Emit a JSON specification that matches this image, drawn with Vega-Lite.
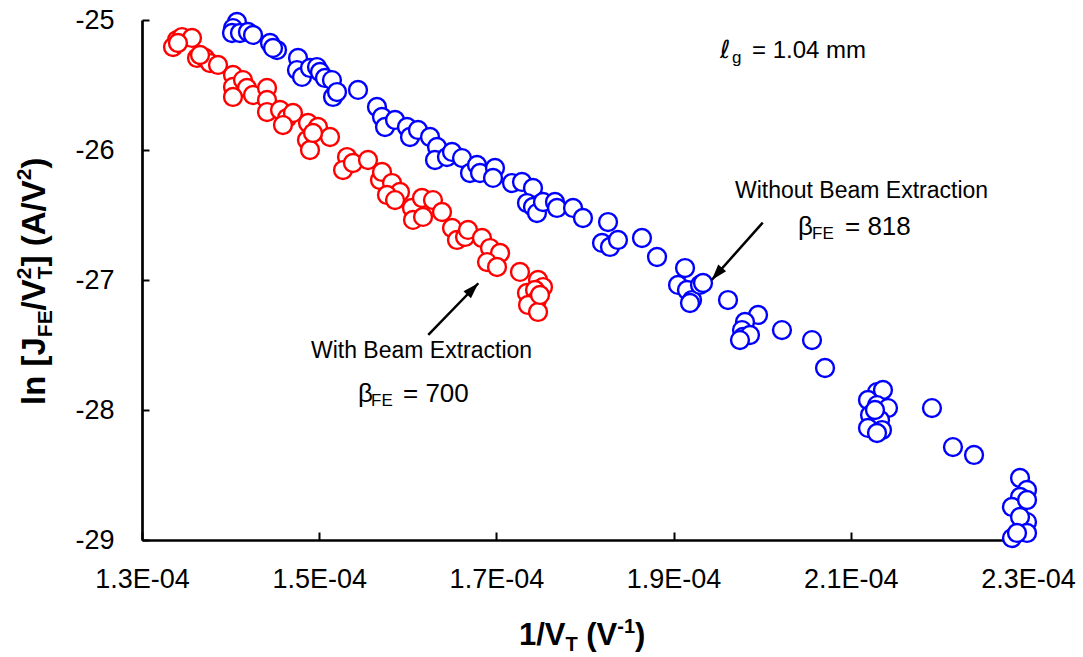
{
  "$schema": "https://vega.github.io/schema/vega-lite/v6.json",
  "width": 886,
  "height": 520,
  "autosize": {"type": "none"},
  "padding": {"left": 142, "top": 20, "right": 55, "bottom": 117},
  "background": "white",
  "data": {"values": [{}]},
  "config": {
    "view": {"stroke": null},
    "font": "Liberation Sans, Arial, sans-serif",
    "axis": {
      "grid": false,
      "title": null,
      "domainColor": "black",
      "domainWidth": 2.7,
      "tickColor": "black",
      "tickWidth": 2,
      "labelColor": "black",
      "labelFont": "Liberation Sans, Arial, sans-serif",
      "labelFontSize": 27,
      "labelFlush": false,
      "labelOverlap": false
    }
  },
  "datasets": {
    "points": [
      {"series": "Without Beam Extraction", "x": 1.4072e-4, "y": -25.015},
      {"series": "Without Beam Extraction", "x": 1.4027e-4, "y": -25.062},
      {"series": "Without Beam Extraction", "x": 1.4016e-4, "y": -25.100},
      {"series": "Without Beam Extraction", "x": 1.4106e-4, "y": -25.100},
      {"series": "Without Beam Extraction", "x": 1.4196e-4, "y": -25.092},
      {"series": "Without Beam Extraction", "x": 1.4253e-4, "y": -25.115},
      {"series": "Without Beam Extraction", "x": 1.4445e-4, "y": -25.177},
      {"series": "Without Beam Extraction", "x": 1.4524e-4, "y": -25.231},
      {"series": "Without Beam Extraction", "x": 1.4479e-4, "y": -25.215},
      {"series": "Without Beam Extraction", "x": 1.4761e-4, "y": -25.292},
      {"series": "Without Beam Extraction", "x": 1.4749e-4, "y": -25.385},
      {"series": "Without Beam Extraction", "x": 1.4806e-4, "y": -25.438},
      {"series": "Without Beam Extraction", "x": 1.4896e-4, "y": -25.369},
      {"series": "Without Beam Extraction", "x": 1.4975e-4, "y": -25.362},
      {"series": "Without Beam Extraction", "x": 1.5009e-4, "y": -25.400},
      {"series": "Without Beam Extraction", "x": 1.5065e-4, "y": -25.446},
      {"series": "Without Beam Extraction", "x": 1.5144e-4, "y": -25.462},
      {"series": "Without Beam Extraction", "x": 1.5156e-4, "y": -25.592},
      {"series": "Without Beam Extraction", "x": 1.5201e-4, "y": -25.554},
      {"series": "Without Beam Extraction", "x": 1.5438e-4, "y": -25.538},
      {"series": "Without Beam Extraction", "x": 1.5652e-4, "y": -25.669},
      {"series": "Without Beam Extraction", "x": 1.5709e-4, "y": -25.746},
      {"series": "Without Beam Extraction", "x": 1.5743e-4, "y": -25.823},
      {"series": "Without Beam Extraction", "x": 1.5856e-4, "y": -25.769},
      {"series": "Without Beam Extraction", "x": 1.5991e-4, "y": -25.823},
      {"series": "Without Beam Extraction", "x": 1.6025e-4, "y": -25.900},
      {"series": "Without Beam Extraction", "x": 1.6115e-4, "y": -25.846},
      {"series": "Without Beam Extraction", "x": 1.6251e-4, "y": -25.900},
      {"series": "Without Beam Extraction", "x": 1.6330e-4, "y": -25.977},
      {"series": "Without Beam Extraction", "x": 1.6307e-4, "y": -26.077},
      {"series": "Without Beam Extraction", "x": 1.6442e-4, "y": -26.054},
      {"series": "Without Beam Extraction", "x": 1.6499e-4, "y": -26.015},
      {"series": "Without Beam Extraction", "x": 1.6612e-4, "y": -26.062},
      {"series": "Without Beam Extraction", "x": 1.6702e-4, "y": -26.177},
      {"series": "Without Beam Extraction", "x": 1.6781e-4, "y": -26.115},
      {"series": "Without Beam Extraction", "x": 1.6815e-4, "y": -26.177},
      {"series": "Without Beam Extraction", "x": 1.6984e-4, "y": -26.138},
      {"series": "Without Beam Extraction", "x": 1.6962e-4, "y": -26.215},
      {"series": "Without Beam Extraction", "x": 1.7176e-4, "y": -26.254},
      {"series": "Without Beam Extraction", "x": 1.7289e-4, "y": -26.246},
      {"series": "Without Beam Extraction", "x": 1.7413e-4, "y": -26.292},
      {"series": "Without Beam Extraction", "x": 1.7345e-4, "y": -26.408},
      {"series": "Without Beam Extraction", "x": 1.7413e-4, "y": -26.438},
      {"series": "Without Beam Extraction", "x": 1.7458e-4, "y": -26.485},
      {"series": "Without Beam Extraction", "x": 1.7526e-4, "y": -26.400},
      {"series": "Without Beam Extraction", "x": 1.7661e-4, "y": -26.400},
      {"series": "Without Beam Extraction", "x": 1.7684e-4, "y": -26.446},
      {"series": "Without Beam Extraction", "x": 1.7865e-4, "y": -26.446},
      {"series": "Without Beam Extraction", "x": 1.7977e-4, "y": -26.523},
      {"series": "Without Beam Extraction", "x": 1.8260e-4, "y": -26.554},
      {"series": "Without Beam Extraction", "x": 1.8192e-4, "y": -26.715},
      {"series": "Without Beam Extraction", "x": 1.8282e-4, "y": -26.746},
      {"series": "Without Beam Extraction", "x": 1.8372e-4, "y": -26.692},
      {"series": "Without Beam Extraction", "x": 1.8643e-4, "y": -26.677},
      {"series": "Without Beam Extraction", "x": 1.8813e-4, "y": -26.823},
      {"series": "Without Beam Extraction", "x": 1.9129e-4, "y": -26.908},
      {"series": "Without Beam Extraction", "x": 1.9050e-4, "y": -27.038},
      {"series": "Without Beam Extraction", "x": 1.9151e-4, "y": -27.077},
      {"series": "Without Beam Extraction", "x": 1.9208e-4, "y": -27.154},
      {"series": "Without Beam Extraction", "x": 1.9298e-4, "y": -27.038},
      {"series": "Without Beam Extraction", "x": 1.9332e-4, "y": -27.023},
      {"series": "Without Beam Extraction", "x": 1.9185e-4, "y": -27.177},
      {"series": "Without Beam Extraction", "x": 1.9614e-4, "y": -27.154},
      {"series": "Without Beam Extraction", "x": 1.9953e-4, "y": -27.269},
      {"series": "Without Beam Extraction", "x": 1.9806e-4, "y": -27.323},
      {"series": "Without Beam Extraction", "x": 1.9772e-4, "y": -27.385},
      {"series": "Without Beam Extraction", "x": 1.9783e-4, "y": -27.438},
      {"series": "Without Beam Extraction", "x": 1.9862e-4, "y": -27.423},
      {"series": "Without Beam Extraction", "x": 1.9749e-4, "y": -27.462},
      {"series": "Without Beam Extraction", "x": 2.0223e-4, "y": -27.385},
      {"series": "Without Beam Extraction", "x": 2.0562e-4, "y": -27.462},
      {"series": "Without Beam Extraction", "x": 2.0709e-4, "y": -27.677},
      {"series": "Without Beam Extraction", "x": 2.1296e-4, "y": -27.862},
      {"series": "Without Beam Extraction", "x": 2.1363e-4, "y": -27.846},
      {"series": "Without Beam Extraction", "x": 2.1194e-4, "y": -27.923},
      {"series": "Without Beam Extraction", "x": 2.1296e-4, "y": -27.962},
      {"series": "Without Beam Extraction", "x": 2.1420e-4, "y": -27.985},
      {"series": "Without Beam Extraction", "x": 2.1217e-4, "y": -28.038},
      {"series": "Without Beam Extraction", "x": 2.1330e-4, "y": -28.077},
      {"series": "Without Beam Extraction", "x": 2.1194e-4, "y": -28.138},
      {"series": "Without Beam Extraction", "x": 2.1352e-4, "y": -28.154},
      {"series": "Without Beam Extraction", "x": 2.1296e-4, "y": -28.177},
      {"series": "Without Beam Extraction", "x": 2.1273e-4, "y": -28.000},
      {"series": "Without Beam Extraction", "x": 2.1916e-4, "y": -27.985},
      {"series": "Without Beam Extraction", "x": 2.2153e-4, "y": -28.285},
      {"series": "Without Beam Extraction", "x": 2.2391e-4, "y": -28.346},
      {"series": "Without Beam Extraction", "x": 2.2910e-4, "y": -28.523},
      {"series": "Without Beam Extraction", "x": 2.2989e-4, "y": -28.615},
      {"series": "Without Beam Extraction", "x": 2.2910e-4, "y": -28.669},
      {"series": "Without Beam Extraction", "x": 2.2819e-4, "y": -28.746},
      {"series": "Without Beam Extraction", "x": 2.2989e-4, "y": -28.692},
      {"series": "Without Beam Extraction", "x": 2.2989e-4, "y": -28.862},
      {"series": "Without Beam Extraction", "x": 2.2910e-4, "y": -28.823},
      {"series": "Without Beam Extraction", "x": 2.2989e-4, "y": -28.946},
      {"series": "Without Beam Extraction", "x": 2.2819e-4, "y": -28.985},
      {"series": "Without Beam Extraction", "x": 2.2876e-4, "y": -28.946},
      {"series": "With Beam Extraction", "x": 1.3395e-4, "y": -25.154},
      {"series": "With Beam Extraction", "x": 1.3350e-4, "y": -25.208},
      {"series": "With Beam Extraction", "x": 1.3451e-4, "y": -25.131},
      {"series": "With Beam Extraction", "x": 1.3564e-4, "y": -25.138},
      {"series": "With Beam Extraction", "x": 1.3406e-4, "y": -25.177},
      {"series": "With Beam Extraction", "x": 1.3621e-4, "y": -25.292},
      {"series": "With Beam Extraction", "x": 1.3711e-4, "y": -25.292},
      {"series": "With Beam Extraction", "x": 1.3767e-4, "y": -25.331},
      {"series": "With Beam Extraction", "x": 1.3858e-4, "y": -25.346},
      {"series": "With Beam Extraction", "x": 1.3655e-4, "y": -25.269},
      {"series": "With Beam Extraction", "x": 1.4027e-4, "y": -25.423},
      {"series": "With Beam Extraction", "x": 1.4027e-4, "y": -25.515},
      {"series": "With Beam Extraction", "x": 1.4140e-4, "y": -25.462},
      {"series": "With Beam Extraction", "x": 1.4185e-4, "y": -25.523},
      {"series": "With Beam Extraction", "x": 1.4027e-4, "y": -25.592},
      {"series": "With Beam Extraction", "x": 1.4253e-4, "y": -25.577},
      {"series": "With Beam Extraction", "x": 1.4411e-4, "y": -25.523},
      {"series": "With Beam Extraction", "x": 1.4411e-4, "y": -25.615},
      {"series": "With Beam Extraction", "x": 1.4411e-4, "y": -25.708},
      {"series": "With Beam Extraction", "x": 1.4558e-4, "y": -25.692},
      {"series": "With Beam Extraction", "x": 1.4637e-4, "y": -25.754},
      {"series": "With Beam Extraction", "x": 1.4704e-4, "y": -25.715},
      {"series": "With Beam Extraction", "x": 1.4591e-4, "y": -25.808},
      {"series": "With Beam Extraction", "x": 1.4874e-4, "y": -25.792},
      {"series": "With Beam Extraction", "x": 1.4986e-4, "y": -25.823},
      {"series": "With Beam Extraction", "x": 1.5122e-4, "y": -25.900},
      {"series": "With Beam Extraction", "x": 1.4862e-4, "y": -25.923},
      {"series": "With Beam Extraction", "x": 1.4896e-4, "y": -26.000},
      {"series": "With Beam Extraction", "x": 1.4930e-4, "y": -25.869},
      {"series": "With Beam Extraction", "x": 1.5314e-4, "y": -26.054},
      {"series": "With Beam Extraction", "x": 1.5269e-4, "y": -26.154},
      {"series": "With Beam Extraction", "x": 1.5381e-4, "y": -26.100},
      {"series": "With Beam Extraction", "x": 1.5551e-4, "y": -26.077},
      {"series": "With Beam Extraction", "x": 1.5686e-4, "y": -26.231},
      {"series": "With Beam Extraction", "x": 1.5709e-4, "y": -26.169},
      {"series": "With Beam Extraction", "x": 1.5822e-4, "y": -26.254},
      {"series": "With Beam Extraction", "x": 1.5912e-4, "y": -26.323},
      {"series": "With Beam Extraction", "x": 1.5765e-4, "y": -26.346},
      {"series": "With Beam Extraction", "x": 1.5856e-4, "y": -26.385},
      {"series": "With Beam Extraction", "x": 1.6047e-4, "y": -26.446},
      {"series": "With Beam Extraction", "x": 1.6160e-4, "y": -26.369},
      {"series": "With Beam Extraction", "x": 1.6284e-4, "y": -26.385},
      {"series": "With Beam Extraction", "x": 1.6059e-4, "y": -26.538},
      {"series": "With Beam Extraction", "x": 1.6172e-4, "y": -26.515},
      {"series": "With Beam Extraction", "x": 1.6386e-4, "y": -26.477},
      {"series": "With Beam Extraction", "x": 1.6499e-4, "y": -26.600},
      {"series": "With Beam Extraction", "x": 1.6555e-4, "y": -26.692},
      {"series": "With Beam Extraction", "x": 1.6646e-4, "y": -26.669},
      {"series": "With Beam Extraction", "x": 1.6679e-4, "y": -26.615},
      {"series": "With Beam Extraction", "x": 1.6837e-4, "y": -26.677},
      {"series": "With Beam Extraction", "x": 1.6928e-4, "y": -26.754},
      {"series": "With Beam Extraction", "x": 1.7041e-4, "y": -26.792},
      {"series": "With Beam Extraction", "x": 1.6894e-4, "y": -26.862},
      {"series": "With Beam Extraction", "x": 1.7007e-4, "y": -26.900},
      {"series": "With Beam Extraction", "x": 1.7266e-4, "y": -26.938},
      {"series": "With Beam Extraction", "x": 1.7470e-4, "y": -27.000},
      {"series": "With Beam Extraction", "x": 1.7526e-4, "y": -27.054},
      {"series": "With Beam Extraction", "x": 1.7345e-4, "y": -27.100},
      {"series": "With Beam Extraction", "x": 1.7436e-4, "y": -27.077},
      {"series": "With Beam Extraction", "x": 1.7458e-4, "y": -27.154},
      {"series": "With Beam Extraction", "x": 1.7357e-4, "y": -27.192},
      {"series": "With Beam Extraction", "x": 1.7470e-4, "y": -27.246},
      {"series": "With Beam Extraction", "x": 1.7492e-4, "y": -27.115}
    ]
  },
  "layer": [
    {
      "data": {"name": "points"},
      "mark": {"type": "point", "filled": false, "fill": "white", "fillOpacity": 1, "opacity": 1, "strokeWidth": 2.4, "size": 320},
      "encoding": {
        "x": {
          "field": "x", "type": "quantitative",
          "scale": {"domain": [0.00013, 0.00023], "nice": false, "zero": false},
          "axis": {
            "values": [0.00013, 0.00015, 0.00017, 0.00019, 0.00021, 0.00023],
            "labelExpr": "format(datum.value * 10000, '.1f') + 'E-04'",
            "tickSize": -8,
            "labelPadding": 34
          }
        },
        "y": {
          "field": "y", "type": "quantitative",
          "scale": {"domain": [-29, -25], "nice": false, "zero": false},
          "axis": {
            "values": [-29, -28, -27, -26, -25],
            "labelExpr": "'' + datum.value",
            "tickSize": -7,
            "labelPadding": 35
          }
        },
        "color": {
          "field": "series", "type": "nominal",
          "scale": {"domain": ["Without Beam Extraction", "With Beam Extraction"], "range": ["#0000ff", "#ff0000"]},
          "legend": null
        }
      }
    },
    {
      "mark": {"type": "rule", "color": "black", "strokeWidth": 2.5},
      "encoding": {
        "x": {"datum": 0.00020006, "type": "quantitative"},
        "y": {"datum": -26.559, "type": "quantitative"},
        "x2": {"datum": 0.00019430},
        "y2": {"datum": -27.0}
      }
    },
    {
      "mark": {"type": "point", "shape": "M0,0 L-0.65,2 L0.65,2 Z", "size": 256, "filled": true, "color": "black", "opacity": 1, "angle": 221},
      "encoding": {
        "x": {"datum": 0.00019430, "type": "quantitative"},
        "y": {"datum": -27.0, "type": "quantitative"}
      }
    },
    {
      "mark": {"type": "rule", "color": "black", "strokeWidth": 2.5},
      "encoding": {
        "x": {"datum": 0.00016231, "type": "quantitative"},
        "y": {"datum": -27.423, "type": "quantitative"},
        "x2": {"datum": 0.00016796},
        "y2": {"datum": -27.025}
      }
    },
    {
      "mark": {"type": "point", "shape": "M0,0 L-0.65,2 L0.65,2 Z", "size": 256, "filled": true, "color": "black", "opacity": 1, "angle": 44},
      "encoding": {
        "x": {"datum": 0.00016796, "type": "quantitative"},
        "y": {"datum": -27.025, "type": "quantitative"}
      }
    },
    {
      "mark": {"type": "text", "text": "ℓ", "align": "left", "baseline": "alphabetic", "fontSize": 25, "font": "DejaVu Sans", "color": "black"},
      "encoding": {"x": {"datum": 0.00019524, "type": "quantitative"}, "y": {"datum": -25.292, "type": "quantitative"}}
    },
    {
      "mark": {"type": "text", "text": "g", "align": "left", "baseline": "alphabetic", "fontSize": 17, "dx": 12, "dy": 5, "color": "black"},
      "encoding": {"x": {"datum": 0.00019524, "type": "quantitative"}, "y": {"datum": -25.292, "type": "quantitative"}}
    },
    {
      "mark": {"type": "text", "text": "= 1.04 mm", "align": "left", "baseline": "alphabetic", "fontSize": 24, "dx": 32, "color": "black"},
      "encoding": {"x": {"datum": 0.00019524, "type": "quantitative"}, "y": {"datum": -25.292, "type": "quantitative"}}
    },
    {
      "mark": {"type": "text", "text": "Without Beam Extraction", "align": "left", "baseline": "alphabetic", "fontSize": 23, "color": "black"},
      "encoding": {"x": {"datum": 0.00019693, "type": "quantitative"}, "y": {"datum": -26.369, "type": "quantitative"}}
    },
    {
      "mark": {"type": "text", "text": "β", "align": "left", "baseline": "alphabetic", "fontSize": 26, "color": "black"},
      "encoding": {"x": {"datum": 0.00020404, "type": "quantitative"}, "y": {"datum": -26.654, "type": "quantitative"}}
    },
    {
      "mark": {"type": "text", "text": "FE", "align": "left", "baseline": "alphabetic", "fontSize": 17, "dx": 14, "dy": 4, "color": "black"},
      "encoding": {"x": {"datum": 0.00020404, "type": "quantitative"}, "y": {"datum": -26.654, "type": "quantitative"}}
    },
    {
      "mark": {"type": "text", "text": "= 818", "align": "left", "baseline": "alphabetic", "fontSize": 26, "dx": 47, "color": "black"},
      "encoding": {"x": {"datum": 0.00020404, "type": "quantitative"}, "y": {"datum": -26.654, "type": "quantitative"}}
    },
    {
      "mark": {"type": "text", "text": "With Beam Extraction", "align": "left", "baseline": "alphabetic", "fontSize": 23, "color": "black"},
      "encoding": {"x": {"datum": 0.00014907, "type": "quantitative"}, "y": {"datum": -27.6, "type": "quantitative"}}
    },
    {
      "mark": {"type": "text", "text": "β", "align": "left", "baseline": "alphabetic", "fontSize": 26, "color": "black"},
      "encoding": {"x": {"datum": 0.00015438, "type": "quantitative"}, "y": {"datum": -27.938, "type": "quantitative"}}
    },
    {
      "mark": {"type": "text", "text": "FE", "align": "left", "baseline": "alphabetic", "fontSize": 17, "dx": 13, "dy": 4, "color": "black"},
      "encoding": {"x": {"datum": 0.00015438, "type": "quantitative"}, "y": {"datum": -27.938, "type": "quantitative"}}
    },
    {
      "mark": {"type": "text", "text": "= 700", "align": "left", "baseline": "alphabetic", "fontSize": 26, "dx": 45, "color": "black"},
      "encoding": {"x": {"datum": 0.00015438, "type": "quantitative"}, "y": {"datum": -27.938, "type": "quantitative"}}
    },
    {
      "mark": {"type": "text", "text": "1/V", "align": "left", "baseline": "alphabetic", "fontSize": 31, "fontWeight": "bold", "color": "black"},
      "encoding": {"x": {"datum": 0.00017255, "type": "quantitative"}, "y": {"datum": -29.8077, "type": "quantitative"}}
    },
    {
      "mark": {"type": "text", "text": "T", "align": "left", "baseline": "alphabetic", "fontSize": 20, "fontWeight": "bold", "dx": 46.5, "dy": 6, "color": "black"},
      "encoding": {"x": {"datum": 0.00017255, "type": "quantitative"}, "y": {"datum": -29.8077, "type": "quantitative"}}
    },
    {
      "mark": {"type": "text", "text": "(V", "align": "left", "baseline": "alphabetic", "fontSize": 31, "fontWeight": "bold", "dx": 67.3, "color": "black"},
      "encoding": {"x": {"datum": 0.00017255, "type": "quantitative"}, "y": {"datum": -29.8077, "type": "quantitative"}}
    },
    {
      "mark": {"type": "text", "text": "-1", "align": "left", "baseline": "alphabetic", "fontSize": 20, "fontWeight": "bold", "dx": 98.3, "dy": -12, "color": "black"},
      "encoding": {"x": {"datum": 0.00017255, "type": "quantitative"}, "y": {"datum": -29.8077, "type": "quantitative"}}
    },
    {
      "mark": {"type": "text", "text": ")", "align": "left", "baseline": "alphabetic", "fontSize": 31, "fontWeight": "bold", "dx": 116.1, "color": "black"},
      "encoding": {"x": {"datum": 0.00017255, "type": "quantitative"}, "y": {"datum": -29.8077, "type": "quantitative"}}
    },
    {
      "mark": {"type": "text", "text": "ln [J", "angle": 270, "align": "left", "baseline": "alphabetic", "fontSize": 33, "fontWeight": "bold", "color": "black"},
      "encoding": {"x": {"datum": 0.000119052, "type": "quantitative"}, "y": {"datum": -27.9615, "type": "quantitative"}}
    },
    {
      "mark": {"type": "text", "text": "FE", "angle": 270, "align": "left", "baseline": "alphabetic", "fontSize": 21, "fontWeight": "bold", "dx": 67.8, "dy": 7, "color": "black"},
      "encoding": {"x": {"datum": 0.000119052, "type": "quantitative"}, "y": {"datum": -27.9615, "type": "quantitative"}}
    },
    {
      "mark": {"type": "text", "text": "/V", "angle": 270, "align": "left", "baseline": "alphabetic", "fontSize": 33, "fontWeight": "bold", "dx": 94.6, "color": "black"},
      "encoding": {"x": {"datum": 0.000119052, "type": "quantitative"}, "y": {"datum": -27.9615, "type": "quantitative"}}
    },
    {
      "mark": {"type": "text", "text": "T", "angle": 270, "align": "left", "baseline": "alphabetic", "fontSize": 21, "fontWeight": "bold", "dx": 125.8, "dy": 7, "color": "black"},
      "encoding": {"x": {"datum": 0.000119052, "type": "quantitative"}, "y": {"datum": -27.9615, "type": "quantitative"}}
    },
    {
      "mark": {"type": "text", "text": "2", "angle": 270, "align": "left", "baseline": "alphabetic", "fontSize": 21, "fontWeight": "bold", "dx": 125.8, "dy": -14, "color": "black"},
      "encoding": {"x": {"datum": 0.000119052, "type": "quantitative"}, "y": {"datum": -27.9615, "type": "quantitative"}}
    },
    {
      "mark": {"type": "text", "text": "] (A/V", "angle": 270, "align": "left", "baseline": "alphabetic", "fontSize": 33, "fontWeight": "bold", "dx": 138.6, "color": "black"},
      "encoding": {"x": {"datum": 0.000119052, "type": "quantitative"}, "y": {"datum": -27.9615, "type": "quantitative"}}
    },
    {
      "mark": {"type": "text", "text": "2", "angle": 270, "align": "left", "baseline": "alphabetic", "fontSize": 21, "fontWeight": "bold", "dx": 224.8, "dy": -14, "color": "black"},
      "encoding": {"x": {"datum": 0.000119052, "type": "quantitative"}, "y": {"datum": -27.9615, "type": "quantitative"}}
    },
    {
      "mark": {"type": "text", "text": ")", "angle": 270, "align": "left", "baseline": "alphabetic", "fontSize": 33, "fontWeight": "bold", "dx": 236.5, "color": "black"},
      "encoding": {"x": {"datum": 0.000119052, "type": "quantitative"}, "y": {"datum": -27.9615, "type": "quantitative"}}
    }
  ]
}
